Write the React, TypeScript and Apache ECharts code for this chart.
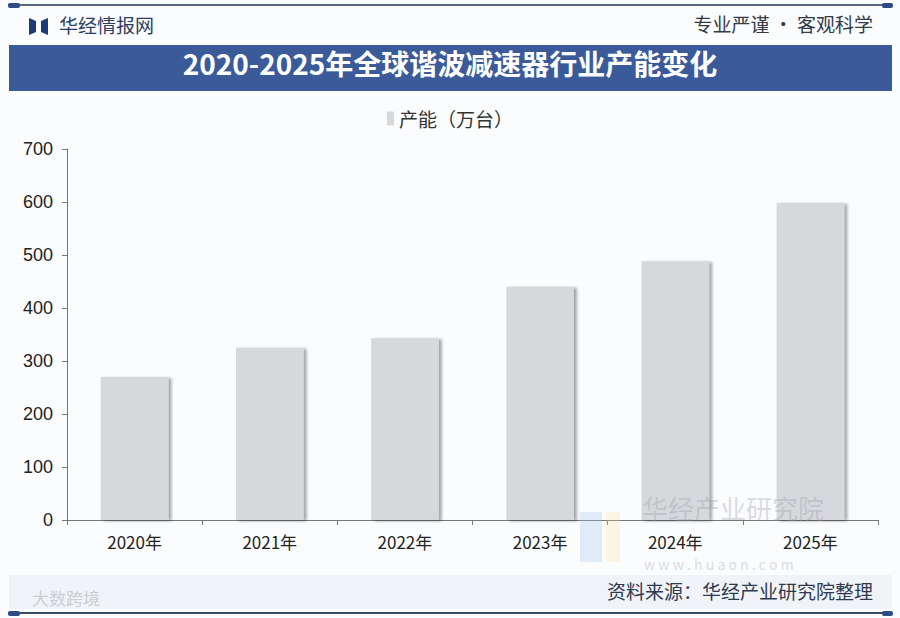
import React, { useEffect, useRef } from "react";
import * as echarts from "echarts";

const categories = ["2020年", "2021年", "2022年", "2023年", "2024年", "2025年"];
const capacity = [270, 325, 343, 440, 488, 598];
const seriesName = "产能（万台）";
const titleText = "2020-2025年全球谐波减速器行业产能变化";
const sourceText = "资料来源：华经产业研究院整理";

const CJK = '"Noto Sans CJK SC", "Noto Sans", sans-serif';

export default function App() {
  const ref = useRef<HTMLDivElement>(null);
  useEffect(() => {
    if (!ref.current) return;
    const chart = echarts.init(ref.current, null, { renderer: "svg" });
    chart.setOption({
      animation: false,
      backgroundColor: "#fbfcfe",
      textStyle: { fontFamily: CJK },
      legend: {
        top: 104,
        left: "center",
        icon: "rect",
        itemWidth: 7,
        itemHeight: 14,
        itemGap: 6,
        textStyle: { fontSize: 19, color: "#333", fontFamily: CJK },
        data: [seriesName],
      },
      grid: { left: 67, right: 22, top: 149, bottom: 98, containLabel: false },
      xAxis: {
        type: "category",
        data: categories,
        boundaryGap: true,
        axisLine: { lineStyle: { color: "#777", width: 1 } },
        axisTick: { show: true, length: 5, alignWithLabel: false, lineStyle: { color: "#777" } },
        axisLabel: { fontSize: 17, color: "#222", margin: 13, fontFamily: CJK },
      },
      yAxis: {
        type: "value",
        min: 0,
        max: 700,
        interval: 100,
        axisLine: { show: true, lineStyle: { color: "#777", width: 1 } },
        axisTick: { show: true, length: 5, lineStyle: { color: "#777" } },
        splitLine: { show: false },
        axisLabel: { fontSize: 18, color: "#222", margin: 14, fontFamily: '"Liberation Sans", Arial, sans-serif' },
      },
      series: [
        {
          name: seriesName,
          type: "bar",
          data: capacity,
          barWidth: "50%",
          itemStyle: {
            color: "#d6d8db",
            shadowColor: "rgba(0,0,0,0.35)",
            shadowBlur: 3,
            shadowOffsetX: 3,
            shadowOffsetY: 1,
          },
        },
      ],
      graphic: [
        // top line
        { type: "line", shape: { x1: 8, y1: 5, x2: 892, y2: 5 }, style: { stroke: "#5a6680", lineWidth: 2 } },
        { type: "rect", shape: { x: 8, y: 3, width: 12, height: 5, r: 2 }, style: { fill: "#2f4a85" } },
        { type: "rect", shape: { x: 882, y: 3, width: 11, height: 5, r: 2 }, style: { fill: "#2f4a85" } },
        // logo
        { type: "polygon", shape: { points: [[29, 18], [36, 21], [36, 32], [29, 35]] }, style: { fill: "#1e3a78" } },
        { type: "polygon", shape: { points: [[41, 21], [48, 18], [48, 35], [41, 32]] }, style: { fill: "#1e3a78" } },
        { type: "text", left: 59, top: 15, style: { text: "华经情报网", font: `19px ${CJK}`, fill: "#2c3d63" } },
        { type: "text", right: 27, top: 14, style: { text: "专业严谨 • 客观科学", font: `19px ${CJK}`, fill: "#333a48" } },
        // title band
        { type: "rect", shape: { x: 9, y: 45, width: 883, height: 46 }, style: { fill: "#3b5a9a" } },
        { type: "text", left: "center", top: 49, style: { text: titleText, font: `bold 28px ${CJK}`, fill: "#ffffff" } },
        // watermark
        { type: "rect", z: 90, shape: { x: 580, y: 512, width: 22, height: 50 }, style: { fill: "rgba(160,195,235,0.3)" } },
        { type: "rect", z: 90, shape: { x: 606, y: 512, width: 14, height: 50 }, style: { fill: "rgba(250,225,150,0.25)" } },
        { type: "text", z: 100, left: 642, top: 494, style: { text: "华经产业研究院", font: `26px ${CJK}`, fill: "rgba(150,155,165,0.35)" } },
        { type: "text", z: 100, left: 644, top: 557, style: { text: "w w w . h u a o n . c o m", font: `14px ${CJK}`, fill: "rgba(150,155,165,0.35)" } },
        // footer band
        { type: "rect", shape: { x: 9, y: 575, width: 883, height: 34 }, style: { fill: "#f0f3f8" } },
        { type: "text", right: 27, top: 581, style: { text: sourceText, font: `19px ${CJK}`, fill: "#2f3a50" } },
        { type: "text", left: 32, top: 589, style: { text: "大数跨境", font: `17px ${CJK}`, fill: "rgba(200,200,205,0.9)" } },
        { type: "line", shape: { x1: 8, y1: 613, x2: 892, y2: 613 }, style: { stroke: "#3d4a66", lineWidth: 2 } },
        { type: "rect", shape: { x: 8, y: 611, width: 12, height: 5, r: 2 }, style: { fill: "#2f4a85" } },
        { type: "rect", shape: { x: 882, y: 611, width: 11, height: 5, r: 2 }, style: { fill: "#2f4a85" } },
      ],
    });
    return () => chart.dispose();
  }, []);
  return (
    <div
      ref={ref}
      style={{ position: "absolute", left: 0, top: 0, width: 900, height: 618 }}
    />
  );
}
